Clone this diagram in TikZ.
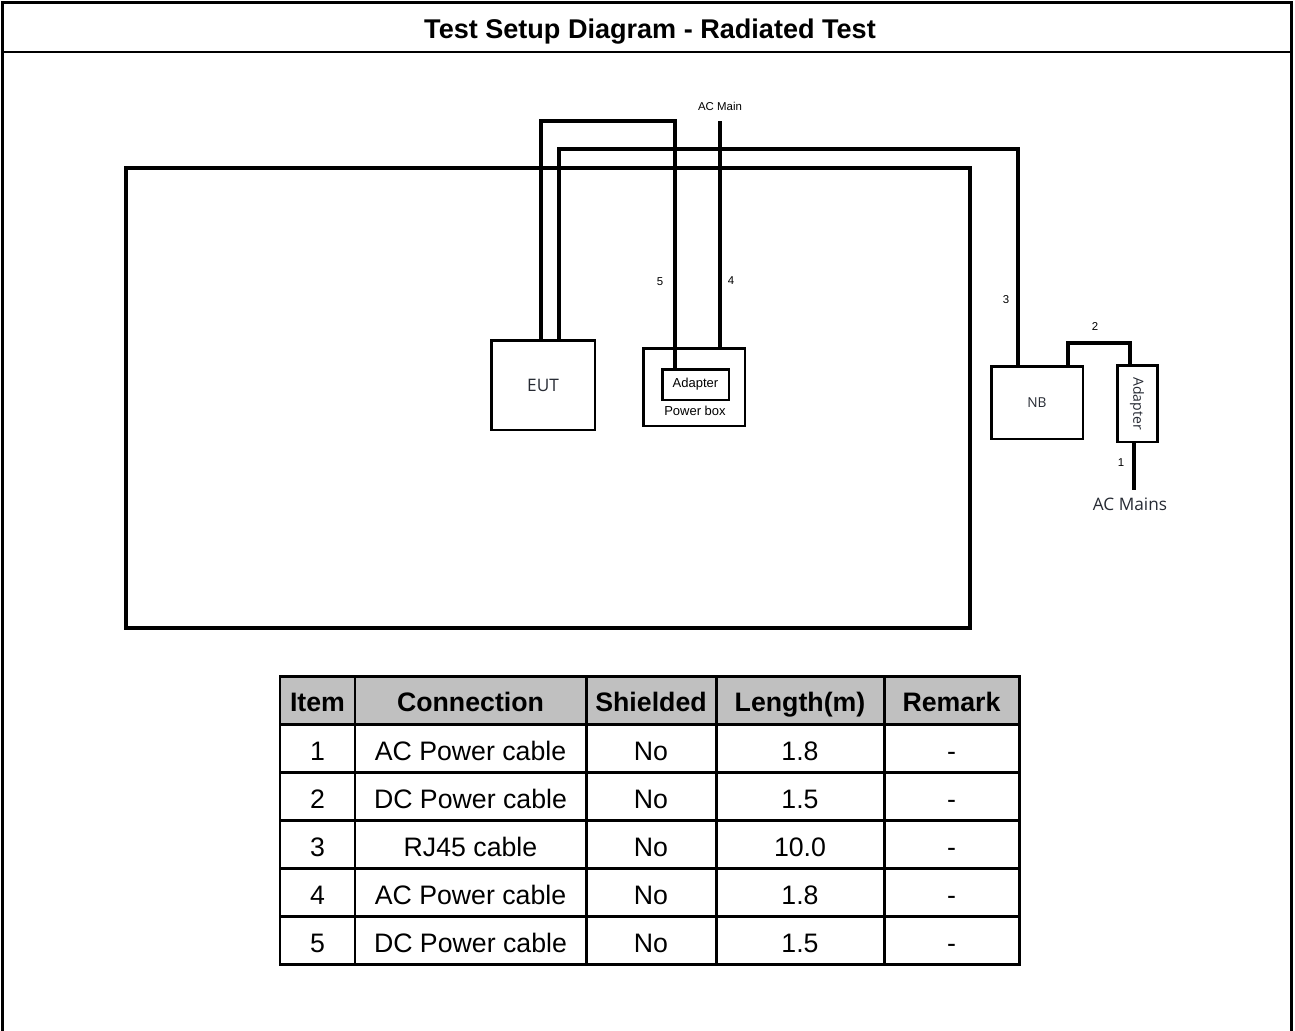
\documentclass[tikz,border=0pt]{standalone}
\usepackage{fontspec}
\setmainfont{Liberation Sans}
\newfontfamily\labelfont{Open Sans}
\usetikzlibrary{positioning}
\definecolor{headgray}{HTML}{C0C0C0}
\definecolor{labelgray}{HTML}{262A33}

\begin{document}
\begin{tikzpicture}[
			x=0.02cm, y=-0.02cm,
			frame/.style={line width=1.7pt},
			unit/.style={rectangle, draw, line width=1.7pt, inner sep=0pt},
			cable/.style={line width=2.3pt},
			num/.style={font=\fontsize{6.5pt}{8pt}\selectfont, inner sep=0pt},
			small/.style={font=\fontsize{7.4pt}{9pt}\selectfont, inner sep=0pt},
			devlabel/.style={font=\labelfont\fontsize{9.8pt}{12pt}\selectfont, text=labelgray, inner sep=0pt},
			cell/.style={font=\fontsize{15.2pt}{18pt}\selectfont, inner sep=0pt, anchor=base},
			head/.style={font=\fontsize{15.2pt}{18pt}\selectfont\bfseries, inner sep=0pt, anchor=base}
			]
			
			\useasboundingbox (0,0) rectangle (1295,1031);
			
			% Frame and title
			\draw[frame] (2.5,1031) -- (2.5,2.5) -- (1291.5,2.5) -- (1291.5,1031);
			\draw[frame] (2.5,52) -- (1291.5,52);
			\node[head, font=\fontsize{15.4pt}{18pt}\selectfont\bfseries] (title) at (650,38) {Test Setup Diagram - Radiated Test};
			
			% Table top
			\node[unit, line width=2.3pt, minimum width=16.88cm, minimum height=9.2cm] (desk) at (548,398) {};
			
			% EUT
			\node[unit, devlabel, minimum width=2.08cm, minimum height=1.8cm] (eut) at (543,385) {EUT};
			
			% Power box with adapter
			\node[unit, minimum width=2.04cm, minimum height=1.56cm] (pbox) at (694,387) {};
			\node[unit, small, minimum width=1.34cm, minimum height=0.62cm] (adp) at (695.5,384.5) {Adapter};
			\node[small] (pboxlbl) at (695,411) {Power box};
			
			% NB and its adapter
			\node[unit, devlabel, font=\labelfont\fontsize{7.8pt}{9pt}\selectfont, minimum width=1.84cm, minimum height=1.46cm] (nb) at (1037,402.5) {NB};
			\node[unit, minimum width=0.8cm, minimum height=1.54cm] (adp2) at (1137,403.5) {};
			\node[devlabel, font=\labelfont\fontsize{8pt}{9pt}\selectfont, rotate=-90] (adp2lbl) at (adp2) {Adapter};
			
			% Cables
			\coordinate (c5a) at (541,121);
			\coordinate (c5b) at (675,121);
			\draw[cable] (c5a |- eut.north) -- (c5a) -- (c5b) -- (c5b |- adp.north);
			
			\coordinate (c3a) at (559,149);
			\coordinate (c3b) at (1018,149);
			\draw[cable] (c3a |- eut.north) -- (c3a) -- (c3b) -- (c3b |- nb.north);
			
			\coordinate (c4) at (720,121);
			\draw[cable] (c4) -- (c4 |- pbox.north);
			
			\coordinate (c2a) at (1068,343);
			\coordinate (c2b) at (1130,343);
			\draw[cable] (c2a |- nb.north) -- (c2a) -- (c2b) -- (c2b |- adp2.north);
			
			\coordinate (c1) at (1134,490);
			\draw[cable] (c1 |- adp2.south) -- (c1);
			
			% Cable labels
			\node[num] (lbl5) at (660,282) {5};
			\node[num] (lbl4) at (731,281) {4};
			\node[num] (lbl3) at (1006,300) {3};
			\node[num] (lbl2) at (1095,327) {2};
			\node[num] (lbl1) at (1121,463) {1};
			\node[num] (acmain) at (720,106) {AC Main};
			\node[devlabel] (acmains) at (1130,504) {AC Mains};
			
			% Cable table
			\fill[headgray] (280,676) rectangle (1019,724);
			\foreach \y in {724,772,820,868,916}
				\draw[frame] (280,\y) -- (1019,\y);
			\foreach \x in {355,586,716,884}
				\draw[frame] (\x,676) -- (\x,964);
			\draw[frame] (280,676) rectangle (1019,964);
			
			\foreach \x/\t [count=\j] in {317.5/Item, 470.5/Connection, 651/Shielded, 800/Length(m), 951.5/Remark}
				\node[head] (head-\j) at (\x,711) {\t};
			
			\foreach \conn/\len [count=\i] in {AC Power cable/1.8, DC Power cable/1.5, RJ45 cable/10.0, AC Power cable/1.8, DC Power cable/1.5} {
				\node[cell] (item-\i) at (317.5,{712+48*\i}) {\i};
				\node[cell] (conn-\i) at (470.5,{712+48*\i}) {\conn};
				\node[cell] (shield-\i) at (651,{712+48*\i}) {No};
				\node[cell] (len-\i) at (800,{712+48*\i}) {\len};
				\node[cell] (rem-\i) at (951.5,{712+48*\i}) {-};
			}
			
		\end{tikzpicture}
\end{document}
